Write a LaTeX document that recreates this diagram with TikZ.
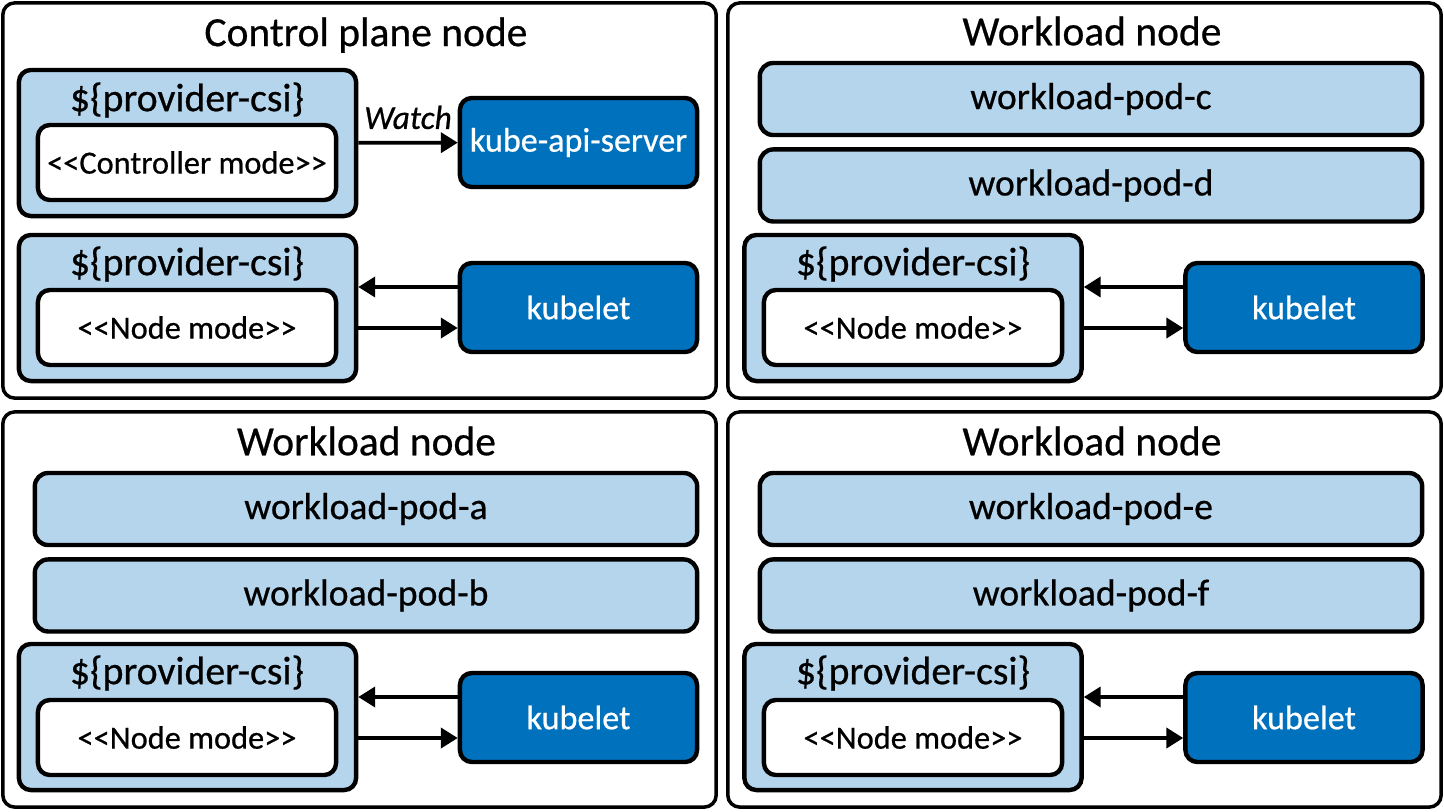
\documentclass[tikz,border=0pt]{standalone}
\usepackage{fontspec}
\setmainfont{Carlito}[FakeBold=0.6]
\usetikzlibrary{arrows.meta,positioning}
\definecolor{podblue}{RGB}{180,213,236}
\definecolor{kubeblue}{RGB}{0,113,188}
\newcommand{\ltlt}{<\kern0pt<}
\newcommand{\gtgt}{>\kern0pt>}

\begin{document}
\begin{tikzpicture}[
  x=0.01cm, y=-0.01cm,
  node distance=0.1cm,
  panel/.style={rectangle, draw, line width=1pt, rounded corners=3.4pt, fill=white, minimum width=7.13cm, minimum height=3.95cm},
  paneltitle/.style={font=\fontsize{11.8}{13}\selectfont},
  pod/.style={rectangle, draw, line width=1.25pt, rounded corners=3.8pt, fill=podblue, minimum width=6.62cm, minimum height=0.72cm, font=\fontsize{10.7}{12}\selectfont},
  csi/.style={rectangle, draw, line width=1.25pt, rounded corners=3.4pt, fill=podblue, minimum width=3.37cm, minimum height=1.46cm},
  csititle/.style={font=\fontsize{11.3}{12}\selectfont},
  mode/.style={rectangle, draw, line width=1.25pt, rounded corners=3.4pt, fill=white, minimum width=2.98cm, minimum height=0.75cm, inner xsep=1pt, font=\fontsize{9.2}{11}\selectfont},
  kube/.style={rectangle, draw, line width=1.25pt, rounded corners=3.4pt, fill=kubeblue, text=white, minimum width=2.37cm, minimum height=0.89cm, inner xsep=1pt, font=\fontsize{9.7}{12}\selectfont},
  arrow/.style={-{Triangle[length=4.8pt,width=5.7pt]}, line width=1.05pt}
]
  \useasboundingbox (0,0) rectangle (1444,811);

  \node[panel] (cp) at (359.5,200.5) {};
  \node[paneltitle] (cptitle) at (366,35) {Control plane node};
  \node[csi] (csi1) at (187.5,143) {};
  \node[csititle] (csi1t) at (187,100) {\$\{provider-csi\}};
  \node[mode] (mode1) at (187,162.5) {\ltlt Controller mode\gtgt};
  \node[kube] (api) at (578.5,142.5) {kube-api-server};
  \node[csi] (csi2) at (187.5,308) {};
  \node[csititle] (csi2t) at (187,264) {\$\{provider-csi\}};
  \node[mode] (mode2) at (187,327.5) {\ltlt Node mode\gtgt};
  \node[kube] (klet1) at (578.5,307.5) {kubelet};
  \draw[arrow] (csi1) -- node[above, font=\fontsize{9.5}{11}\selectfont\itshape] (watch) {Watch} (api);
  \draw[arrow] ([yshift=0.205cm]klet1.west) -- ([yshift=0.205cm]klet1.west -| csi2.east);
  \draw[arrow] ([yshift=-0.205cm]klet1.west -| csi2.east) -- ([yshift=-0.205cm]klet1.west);

  \node[panel] (wn1) at (1084.5,200.5) {};
  \node[paneltitle] (wn1title) at (1092,31) {Workload node};
  \node[pod] (podc) at (1091,99) {workload-pod-c};
  \node[pod, below=of podc] (podd) {workload-pod-d};
  \node[csi] (csi3) at (913,308) {};
  \node[csititle] (csi3t) at (913,264) {\$\{provider-csi\}};
  \node[mode] (mode3) at (913,327.5) {\ltlt Node mode\gtgt};
  \node[kube] (klet2) at (1304,307.5) {kubelet};
  \draw[arrow] ([yshift=0.205cm]klet2.west) -- ([yshift=0.205cm]klet2.west -| csi3.east);
  \draw[arrow] ([yshift=-0.205cm]klet2.west -| csi3.east) -- ([yshift=-0.205cm]klet2.west);

  \node[panel] (wn2) at (359.5,609.5) {};
  \node[paneltitle] (wn2title) at (366.5,441) {Workload node};
  \node[pod] (poda) at (366,509) {workload-pod-a};
  \node[pod, below=of poda] (podb) {workload-pod-b};
  \node[csi] (csi4) at (187.5,717) {};
  \node[csititle] (csi4t) at (187,673) {\$\{provider-csi\}};
  \node[mode] (mode4) at (187,737.5) {\ltlt Node mode\gtgt};
  \node[kube] (klet3) at (578.5,717.5) {kubelet};
  \draw[arrow] ([yshift=0.205cm]klet3.west) -- ([yshift=0.205cm]klet3.west -| csi4.east);
  \draw[arrow] ([yshift=-0.205cm]klet3.west -| csi4.east) -- ([yshift=-0.205cm]klet3.west);

  \node[panel] (wn3) at (1084.5,609.5) {};
  \node[paneltitle] (wn3title) at (1092,441) {Workload node};
  \node[pod] (pode) at (1091,509) {workload-pod-e};
  \node[pod, below=of pode] (podf) {workload-pod-f};
  \node[csi] (csi5) at (913,717) {};
  \node[csititle] (csi5t) at (913,673) {\$\{provider-csi\}};
  \node[mode] (mode5) at (913,737.5) {\ltlt Node mode\gtgt};
  \node[kube] (klet4) at (1304,717.5) {kubelet};
  \draw[arrow] ([yshift=0.205cm]klet4.west) -- ([yshift=0.205cm]klet4.west -| csi5.east);
  \draw[arrow] ([yshift=-0.205cm]klet4.west -| csi5.east) -- ([yshift=-0.205cm]klet4.west);
\end{tikzpicture}
\end{document}
